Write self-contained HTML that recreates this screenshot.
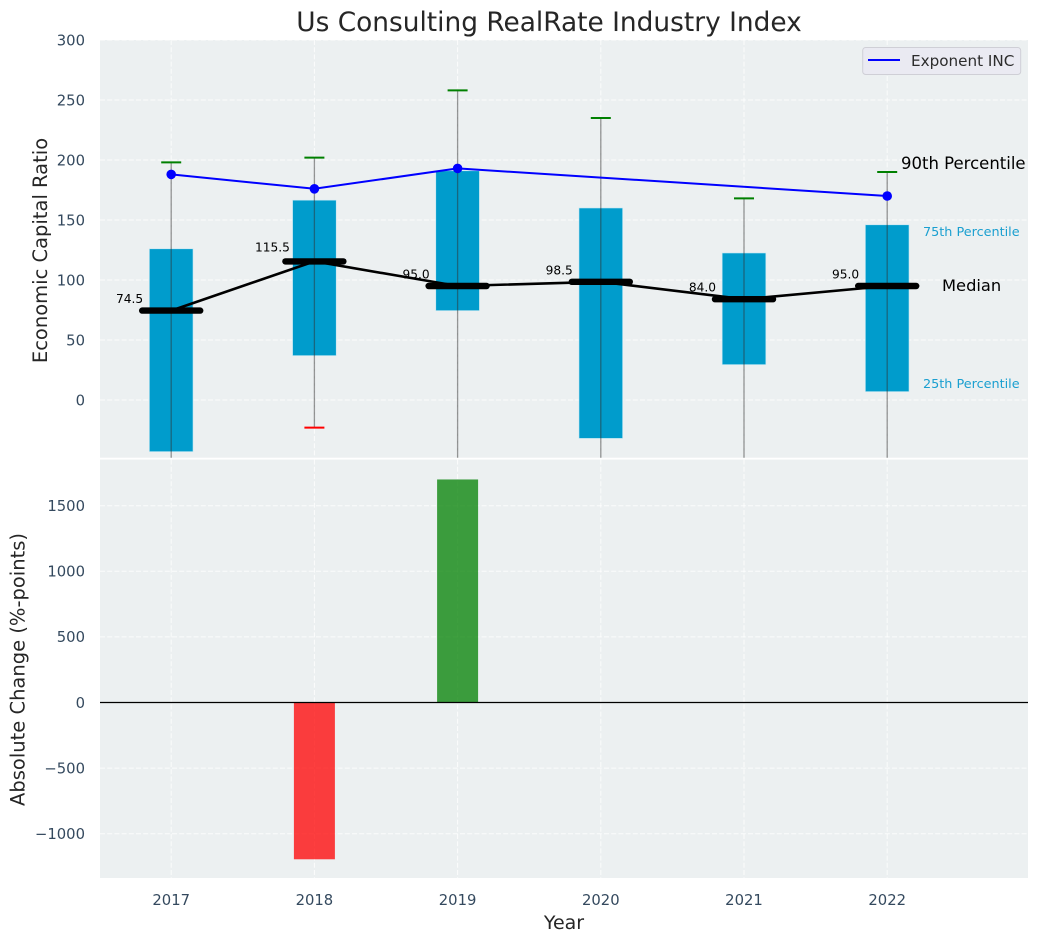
<!DOCTYPE html>
<html>
<head>
<meta charset="utf-8">
<title>Us Consulting RealRate Industry Index</title>
<style>
html,body{margin:0;padding:0;background:#fff;width:1039px;height:942px;overflow:hidden}
svg{display:block}
text{font-family:"DejaVu Sans","Liberation Sans",sans-serif}
</style>
</head>
<body>
<svg id="chart" xmlns="http://www.w3.org/2000/svg" width="1039" height="942" viewBox="0 0 1039 942">
  <defs>
    <clipPath id="top-clip"><rect x="100" y="40" width="928" height="417.7"/></clipPath>
    <clipPath id="bottom-clip"><rect x="100" y="459.6" width="928" height="418.4"/></clipPath>
  </defs>
  <rect x="100" y="40" width="928" height="417.7" fill="#ecf0f1"/>
  <rect x="100" y="459.6" width="928" height="418.4" fill="#ecf0f1"/>
  <g id="grid"></g>
  <g id="top-marks" clip-path="url(#top-clip)"></g>
  <g id="bottom-marks" clip-path="url(#bottom-clip)"></g>
  <g id="labels"></g>
  <text x="549" y="31" font-size="26.4" fill="#262626" text-anchor="middle">Us Consulting RealRate Industry Index</text>
  <text x="564" y="929" font-size="19" fill="#262626" text-anchor="middle">Year</text>
  <text transform="translate(47,250.5) rotate(-90)" font-size="19.5" fill="#262626" text-anchor="middle">Economic Capital Ratio</text>
  <text transform="translate(24.5,669.5) rotate(-90)" font-size="19.5" fill="#262626" text-anchor="middle">Absolute Change (%-points)</text>
  <g>
    <rect x="862.7" y="47.5" width="158" height="27" rx="3" ry="3" fill="#eaeaf2" stroke="#cfcfd6" stroke-width="1"/>
    <line x1="868" y1="60" x2="900" y2="60" stroke="#0000ff" stroke-width="2"/>
    <text x="911" y="66" font-size="15.2" fill="#2c2c2c">Exponent INC</text>
  </g>
  <text x="901" y="169" font-size="16.5" fill="#000">90th Percentile</text>
  <text x="923" y="236" font-size="12.8" fill="#1a9fd0">75th Percentile</text>
  <text x="942" y="291" font-size="16.3" fill="#000">Median</text>
  <text x="923" y="388" font-size="12.8" fill="#1a9fd0">25th Percentile</text>
</svg>
<script>
const years = [2017, 2018, 2019, 2020, 2021, 2022];
const p10 = [-75, -23, -90, -85, -70, -95];
const p25 = [-43, 37, 74.5, -32, 29.5, 7];
const medians = [74.5, 115.5, 95, 98.5, 84, 95];
const p75 = [126, 166.5, 191, 160, 122.5, 146];
const p90 = [198, 202, 258, 235, 168, 190];
const companyYears = [2017, 2018, 2019, 2022];
const companyValues = [188, 176, 193, 170];
const changeYears = [2018, 2019];
const changeValues = [-1195, 1700];
const topTicks = [0, 50, 100, 150, 200, 250, 300];
const bottomTicks = [-1000, -500, 0, 500, 1000, 1500];

const NS = 'http://www.w3.org/2000/svg';
const xScale = v => 171.2 + (v - 2017) * 143.2;
const yTop = v => 400 - v * 1.2;
const yBottom = v => 702.5 - v * 0.1312;

const grid = document.getElementById('grid');
const topMarks = document.getElementById('top-marks');
const bottomMarks = document.getElementById('bottom-marks');
const labels = document.getElementById('labels');

function make(parent, tag, attrs, text) {
  const el = document.createElementNS(NS, tag);
  for (const k in attrs) el.setAttribute(k, attrs[k]);
  if (text !== undefined) el.textContent = text;
  parent.appendChild(el);
  return el;
}
const fmtTick = v => (v < 0 ? '\u2212' + Math.abs(v) : String(v));
const gridStyle = {stroke: '#ffffff', 'stroke-width': 1, 'stroke-dasharray': '5 2.2', 'stroke-opacity': 0.8};

// grid lines and y ticks
topTicks.forEach(v => {
  const y = yTop(v);
  const g = make(grid, 'line', Object.assign({x1: 100, x2: 1028, y1: y, y2: y}, gridStyle));
  
  
  const t = make(labels, 'text', {x: 85, y: y + 5.3, 'font-size': 14.8, fill: '#34495e', 'text-anchor': 'end'}, fmtTick(v));
  
  
});
bottomTicks.forEach(v => {
  const y = yBottom(v);
  const g = make(grid, 'line', Object.assign({x1: 100, x2: 1028, y1: y, y2: y}, gridStyle));
  
  
  const t = make(labels, 'text', {x: 85, y: y + 5.3, 'font-size': 14.8, fill: '#34495e', 'text-anchor': 'end'}, fmtTick(v));
  
  
});
years.forEach(yr => {
  const x = xScale(yr);
  const g1 = make(grid, 'line', Object.assign({x1: x, x2: x, y1: 40, y2: 457.7}, gridStyle));
  
  
  const g2 = make(grid, 'line', Object.assign({x1: x, x2: x, y1: 459.6, y2: 878}, gridStyle));
  
  
  const t = make(labels, 'text', {x: x, y: 905, 'font-size': 14.8, fill: '#34495e', 'text-anchor': 'middle'}, String(yr));
  
  
});

// percentile boxes
years.forEach((yr, i) => {
  const x = xScale(yr);
  const box = make(topMarks, 'rect', {x: x - 21.8, width: 43.6, y: yTop(p75[i]), height: yTop(p25[i]) - yTop(p75[i]), fill: '#009ccc', stroke: '#bfe6f2', 'stroke-width': 0.6});
  
  
});

// whiskers and caps
years.forEach((yr, i) => {
  const x = xScale(yr);
  const w = make(topMarks, 'line', {x1: x, x2: x, y1: yTop(p90[i]), y2: yTop(p10[i]), stroke: '#303030', 'stroke-opacity': 0.5, 'stroke-width': 1.3});
  
  
  const c = make(topMarks, 'line', {x1: x - 10, x2: x + 10, y1: yTop(p90[i]), y2: yTop(p90[i]), stroke: '#008000', 'stroke-width': 2});
  
  
  const d = make(topMarks, 'line', {x1: x - 10, x2: x + 10, y1: yTop(p10[i]), y2: yTop(p10[i]), stroke: '#ff0000', 'stroke-width': 2});
  
  
});

// median connecting line
const medianLine = make(topMarks, 'polyline', {points: years.map((yr, i) => xScale(yr) + ',' + yTop(medians[i])).join(' '), fill: 'none', stroke: '#000', 'stroke-width': 2.6});



// median bars and labels
years.forEach((yr, i) => {
  const x = xScale(yr);
  const y = yTop(medians[i]);
  const m = make(topMarks, 'line', {x1: x - 29, x2: x + 29, y1: y, y2: y, stroke: '#000', 'stroke-width': 6.4, 'stroke-linecap': 'round'});
  
  
  const dy = i === 1 ? 10 : 7.5;
  const dx = i === 1 ? 24.5 : 28;
  const t = make(labels, 'text', {x: x - dx, y: y - dy, 'font-size': 12.2, fill: '#000', 'text-anchor': 'end'}, medians[i].toFixed(1));
  
  
});

// company series
const companyLine = make(topMarks, 'polyline', {points: companyYears.map((yr, i) => xScale(yr) + ',' + yTop(companyValues[i])).join(' '), fill: 'none', stroke: '#0000ff', 'stroke-width': 2});


companyYears.forEach((yr, i) => {
  const p = make(topMarks, 'circle', {cx: xScale(yr), cy: yTop(companyValues[i]), r: 4.8, fill: '#0000ff'});
  
  
});

// absolute change bars
changeYears.forEach((yr, i) => {
  const v = changeValues[i];
  const y0 = yBottom(0);
  const y1 = yBottom(v);
  const b = make(bottomMarks, 'rect', {x: xScale(yr) - 20.5, width: 41, y: Math.min(y0, y1), height: Math.abs(y1 - y0), fill: v < 0 ? '#ff0000' : '#008000', 'fill-opacity': 0.75});
  
  
});
const zero = make(bottomMarks, 'line', {x1: 100, x2: 1028, y1: yBottom(0), y2: yBottom(0), stroke: '#000', 'stroke-width': 1.2});


</script>
</body>
</html>
